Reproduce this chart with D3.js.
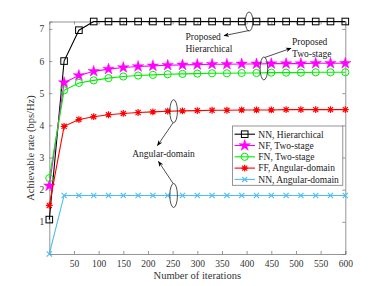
<!DOCTYPE html>
<html>
<head>
<meta charset="utf-8">
<script src="https://cdn.jsdelivr.net/npm/d3@7"></script>
<style>
  html, body { margin: 0; padding: 0; background: #fff; }
  svg { display: block; font-family: "Liberation Serif", "Times New Roman", serif; }
</style>
</head>
<body>
<div id="chart"></div>
<script>
/* Achievable rate vs number of iterations */

const iterations = [0, 30, 60, 90, 120, 150, 180, 210, 240, 270, 300, 330, 360, 390, 420, 450, 480, 510, 540, 570, 600];

const nnHier = [1.07, 6.00, 6.96, 7.23, 7.23, 7.23, 7.23, 7.23, 7.23, 7.23, 7.23, 7.23, 7.23, 7.23, 7.23, 7.23, 7.23, 7.23, 7.23, 7.23, 7.23];
const nfTwo  = [2.12, 5.33, 5.55, 5.68, 5.75, 5.80, 5.83, 5.85, 5.87, 5.88, 5.89, 5.90, 5.90, 5.91, 5.91, 5.92, 5.92, 5.92, 5.93, 5.93, 5.93];
const fnTwo  = [2.36, 5.09, 5.32, 5.40, 5.47, 5.52, 5.55, 5.57, 5.59, 5.60, 5.61, 5.62, 5.62, 5.63, 5.63, 5.64, 5.64, 5.64, 5.65, 5.65, 5.65];
const ffAng  = [1.51, 3.97, 4.18, 4.27, 4.33, 4.37, 4.40, 4.42, 4.44, 4.45, 4.46, 4.47, 4.47, 4.48, 4.48, 4.48, 4.49, 4.49, 4.49, 4.49, 4.49];
const nnAng  = [0.00, 1.82, 1.82, 1.82, 1.82, 1.82, 1.82, 1.82, 1.82, 1.82, 1.82, 1.82, 1.82, 1.82, 1.82, 1.82, 1.82, 1.82, 1.82, 1.82, 1.82];

const seriesNames = ['NN, Hierarchical', 'NF, Two-stage', 'FN, Two-stage', 'FF, Angular-domain', 'NN, Angular-domain'];
const xTicks = [50, 100, 150, 200, 250, 300, 350, 400, 450, 500, 550, 600];
const yTicks = [1, 2, 3, 4, 5, 6, 7];

const SERIES = [
  { name: seriesNames[0], values: nnHier, color: '#000000', marker: 'square' },
  { name: seriesNames[1], values: nfTwo,  color: '#ff00ff', marker: 'star' },
  { name: seriesNames[2], values: fnTwo,  color: '#00ee00', marker: 'circle' },
  { name: seriesNames[3], values: ffAng,  color: '#ff0000', marker: 'asterisk' },
  { name: seriesNames[4], values: nnAng,  color: '#4dbeee', marker: 'cross' },
];

const W = 382, H = 286;
const M = { left: 49.3, right: 382 - 345.3, top: 21.5, bottom: 286 - 254 };

const svg = d3.select('#chart').append('svg').attr('width', W).attr('height', H);

const x = d3.scaleLinear().domain([0, 600]).range([M.left, W - M.right]);
const y = d3.scaleLinear().domain([0, 7.23]).range([H - M.bottom, M.top]);

const axisColor = '#7a7a7a';

// axes (ticks inward)
const gx = svg.append('g').attr('transform', `translate(0,${H - M.bottom})`)
  .call(d3.axisBottom(x).tickValues(xTicks).tickSize(-3).tickPadding(6));
const gxTop = svg.append('g').attr('transform', `translate(0,${M.top})`)
  .call(d3.axisTop(x).tickValues(xTicks).tickSize(-3).tickFormat(''));
const gy = svg.append('g').attr('transform', `translate(${M.left},0)`)
  .call(d3.axisLeft(y).tickValues(yTicks).tickSize(-3).tickPadding(5));
const gyRight = svg.append('g').attr('transform', `translate(${W - M.right},0)`)
  .call(d3.axisRight(y).tickValues(yTicks).tickSize(-3).tickFormat(''));

[gx, gxTop, gy, gyRight].forEach(g => {
  g.select('.domain').attr('stroke', axisColor).attr('stroke-width', 0.8);
  g.selectAll('.tick line').attr('stroke', axisColor).attr('stroke-width', 0.8);
  g.selectAll('.tick text').attr('fill', '#333').attr('font-size', '9.5px')
    .attr('font-family', '"Liberation Serif", serif');
});

// axis labels
svg.append('text')
  .attr('x', (M.left + W - M.right) / 2).attr('y', 279)
  .attr('text-anchor', 'middle').attr('font-size', '10.5px').attr('fill', '#333')
  .text('Number of iterations');

svg.append('text')
  .attr('transform', 'translate(33.5,148) rotate(-90)')
  .attr('text-anchor', 'middle').attr('font-size', '10.5px').attr('fill', '#333')
  .text('Achievable rate (bps/Hz)');

// markers
const starPath = d3.symbol().type(d3.symbolStar).size(40)();
function drawMarker(g, type, color) {
  if (type === 'square') {
    g.append('rect').attr('x', -3.3).attr('y', -3.3).attr('width', 6.6).attr('height', 6.6)
      .attr('fill', 'none').attr('stroke', color).attr('stroke-width', 1);
  } else if (type === 'star') {
    g.append('path').attr('d', starPath).attr('fill', color).attr('stroke', color).attr('stroke-width', 0.5);
  } else if (type === 'circle') {
    g.append('circle').attr('r', 3.6).attr('fill', 'none').attr('stroke', color).attr('stroke-width', 1);
  } else if (type === 'asterisk') {
    const r = 3.4;
    g.append('path')
      .attr('d', `M${-r},0H${r}M0,${-r}V${r}M${-r * 0.75},${-r * 0.75}L${r * 0.75},${r * 0.75}M${-r * 0.75},${r * 0.75}L${r * 0.75},${-r * 0.75}`)
      .attr('stroke', color).attr('stroke-width', 1.2).attr('fill', 'none');
  } else if (type === 'cross') {
    const r = 2.6;
    g.append('path')
      .attr('d', `M${-r},${-r}L${r},${r}M${-r},${r}L${r},${-r}`)
      .attr('stroke', color).attr('stroke-width', 1.1).attr('fill', 'none');
  }
}

const line = d3.line().x((d, i) => x(iterations[i])).y(d => y(d));

SERIES.forEach(s => {
  svg.append('path').datum(s.values)
    .attr('d', line).attr('fill', 'none')
    .attr('stroke', s.color).attr('stroke-width', 1.1);
  svg.append('g').selectAll('g').data(s.values).join('g')
    .attr('transform', (d, i) => `translate(${x(iterations[i])},${y(d)})`)
    .each(function () { drawMarker(d3.select(this), s.marker, s.color); });
});

// annotations
const defs = svg.append('defs');
defs.append('marker').attr('id', 'arr').attr('viewBox', '0 0 10 10')
  .attr('refX', 9).attr('refY', 5).attr('markerWidth', 7).attr('markerHeight', 7)
  .attr('orient', 'auto')
  .append('path').attr('d', 'M0,1L10,5L0,9L3,5Z').attr('fill', '#000');

function ellipse(it, val, ry) {
  svg.append('ellipse').attr('cx', x(it)).attr('cy', y(val))
    .attr('rx', 3.8).attr('ry', ry)
    .attr('fill', 'none').attr('stroke', '#222').attr('stroke-width', 0.8);
}
function arrow(x1, y1, x2, y2) {
  svg.append('line').attr('x1', x1).attr('y1', y1).attr('x2', x2).attr('y2', y2)
    .attr('stroke', '#222').attr('stroke-width', 0.8).attr('marker-end', 'url(#arr)');
}
function label(lines, x0, y0, anchor) {
  lines.forEach((t, i) => {
    svg.append('text').attr('x', x0).attr('y', y0 + i * 11.5)
      .attr('text-anchor', anchor).attr('font-size', '9.5px').attr('fill', '#222').text(t);
  });
}

// hierarchical
ellipse(405, 7.23, 9.5);
arrow(x(405), y(7.23) + 9, 224, 35.7);
label(['Proposed', 'Hierarchical'], 185.5, 40, 'start');

// two-stage
ellipse(435, (nfTwo[14] + fnTwo[14]) / 2, 11.5);
arrow(x(435) + 1, y((nfTwo[14] + fnTwo[14]) / 2) - 11, 291, 48.3);
label(['Proposed', 'Two-stage'], 292, 45, 'start');

// angular-domain
ellipse(252, ffAng[8], 11.5);
ellipse(252, nnAng[8], 12);
arrow(x(252) - 0.5, y(ffAng[8]) + 11.5, 157.5, 145.5);
arrow(x(252) - 0.5, y(nnAng[8]) - 12, 158.5, 161.5);
label(['Angular-domain'], 163.5, 156.5, 'middle');

// legend
const lg = svg.append('g').attr('transform', 'translate(232.5,126)');
lg.append('rect').attr('width', 110.3).attr('height', 59.3)
  .attr('fill', '#fff').attr('stroke', axisColor).attr('stroke-width', 0.8);
SERIES.forEach((s, i) => {
  const row = lg.append('g').attr('transform', `translate(0,${8.2 + i * 11.3})`);
  row.append('line').attr('x1', 2).attr('x2', 22.5).attr('stroke', s.color).attr('stroke-width', 1.1);
  drawMarker(row.append('g').attr('transform', 'translate(12.2,0)'), s.marker, s.color);
  row.append('text').attr('x', 25.8).attr('y', 3.3).attr('font-size', '9.5px').attr('fill', '#222').text(s.name);
});
</script>
</body>
</html>
